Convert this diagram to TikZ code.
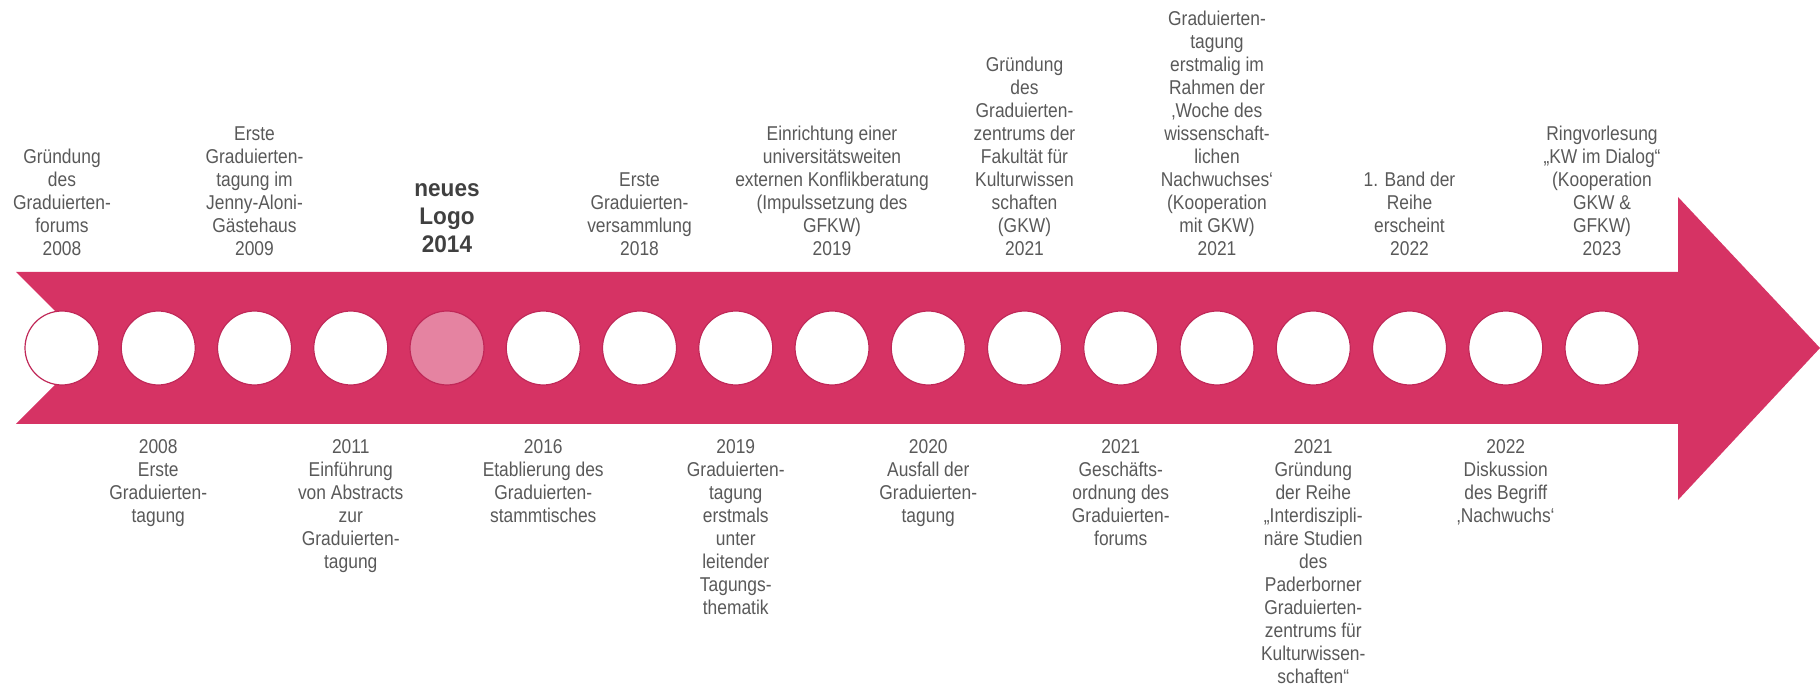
\documentclass[tikz,border=0pt]{standalone}
\usepackage{fontspec}
\setmainfont[FakeStretch=0.87]{Liberation Sans}
\newfontfamily\logofont[FakeStretch=0.94]{Liberation Sans}
\usepackage{tikz}
\usetikzlibrary{positioning}
\definecolor{band}{RGB}{214,51,100}
\definecolor{ring}{RGB}{192,40,88}
\definecolor{logopink}{RGB}{229,131,161}
\definecolor{txt}{RGB}{89,89,89}
\definecolor{logotxt}{RGB}{64,64,64}
\tikzstyle{dot}=[draw=ring, circle, line width=1.2pt, fill=white, minimum size=74pt, inner sep=0pt]
\tikzstyle{uplabel}=[align=center, inner sep=0pt, text=txt, font=\fontsize{20}{23}\selectfont, node distance=55pt]
\tikzstyle{downlabel}=[align=center, inner sep=0pt, text=txt, font=\fontsize{20}{23}\selectfont, node distance=54pt]
\tikzstyle{logolabel}=[uplabel, text=logotxt, font=\logofont\bfseries\fontsize{24}{28}\selectfont, node distance=57pt]

\begin{document}
\begin{tikzpicture}[x=1pt, y=1pt]
	\useasboundingbox (0,0) rectangle (1820,686);
	% the arrow
	\fill[band] (16,414) -- (1678,414) -- (1678,489) -- (1820,338) -- (1678,186) -- (1678,262) -- (16,262) -- (92,338) -- cycle;

	\node[dot] (c0) at (62,338) {};
	\node[dot] (c1) at (158.25,338) {};
	\node[dot] (c2) at (254.5,338) {};
	\node[dot] (c3) at (350.75,338) {};
	\node[dot, fill=logopink] (c4) at (447,338) {};
	\node[dot] (c5) at (543.25,338) {};
	\node[dot] (c6) at (639.5,338) {};
	\node[dot] (c7) at (735.75,338) {};
	\node[dot] (c8) at (832,338) {};
	\node[dot] (c9) at (928.25,338) {};
	\node[dot] (c10) at (1024.5,338) {};
	\node[dot] (c11) at (1120.75,338) {};
	\node[dot] (c12) at (1217,338) {};
	\node[dot] (c13) at (1313.25,338) {};
	\node[dot] (c14) at (1409.5,338) {};
	\node[dot] (c15) at (1505.75,338) {};
	\node[dot] (c16) at (1602,338) {};

	% above the arrow
	\node[uplabel] (t0) [above = of c0] {Gründung\\des\\Graduierten-\\forums\\2008};
	\node[uplabel] (t2) [above = of c2] {Erste\\Graduierten-\\tagung im\\Jenny-Aloni-\\Gästehaus\\2009};
	\node[logolabel] (t4) [above = of c4] {neues\\Logo\\2014};
	\node[uplabel] (t6) [above = of c6] {Erste\\Graduierten-\\versammlung\\2018};
	\node[uplabel] (t8) [above = of c8] {Einrichtung einer\\universitätsweiten\\externen Konflikberatung\\(Impulssetzung des\\GFKW)\\2019};
	\node[uplabel] (t10) [above = of c10] {Gründung\\des\\Graduierten-\\zentrums der\\Fakultät für\\Kulturwissen\\schaften\\(GKW)\\2021};
	\node[uplabel] (t12) [above = of c12] {Graduierten-\\tagung\\erstmalig im\\Rahmen der\\‚Woche des\\wissenschaft-\\lichen\\Nachwuchses‘\\(Kooperation\\mit GKW)\\2021};
	\node[uplabel] (t14) [above = of c14] {1. Band der\\Reihe\\erscheint\\2022};
	\node[uplabel] (t16) [above = of c16] {Ringvorlesung\\„KW im Dialog“\\(Kooperation\\GKW \&\\GFKW)\\2023};

	% below the arrow
	\node[downlabel] (t1) [below = of c1] {2008\\Erste\\Graduierten-\\tagung};
	\node[downlabel] (t3) [below = of c3] {2011\\Einführung\\von Abstracts\\zur\\Graduierten-\\tagung};
	\node[downlabel] (t5) [below = of c5] {2016\\Etablierung des\\Graduierten-\\stammtisches};
	\node[downlabel] (t7) [below = of c7] {2019\\Graduierten-\\tagung\\erstmals\\unter\\leitender\\Tagungs-\\thematik};
	\node[downlabel] (t9) [below = of c9] {2020\\Ausfall der\\Graduierten-\\tagung};
	\node[downlabel] (t11) [below = of c11] {2021\\Geschäfts-\\ordnung des\\Graduierten-\\forums};
	\node[downlabel] (t13) [below = of c13] {2021\\Gründung\\der Reihe\\„Interdiszipli-\\näre Studien\\des\\Paderborner\\Graduierten-\\zentrums für\\Kulturwissen-\\schaften“};
	\node[downlabel] (t15) [below = of c15] {2022\\Diskussion\\des Begriff\\‚Nachwuchs‘};
\end{tikzpicture}
\end{document}
